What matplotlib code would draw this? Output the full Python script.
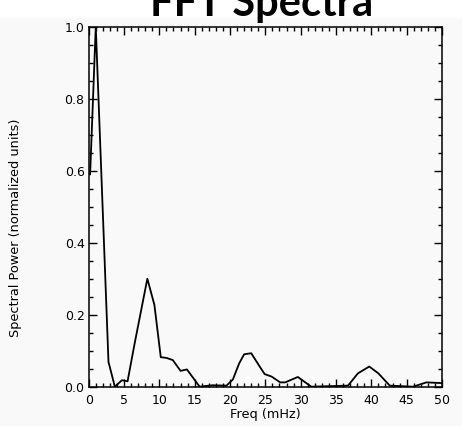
import matplotlib
matplotlib.use("Agg")
import matplotlib.pyplot as plt
from matplotlib.ticker import MultipleLocator
from matplotlib.patches import Rectangle

freq = [0.2, 1.0, 2.8, 3.7, 4.7, 5.5, 6.5, 8.3, 9.3, 10.2, 11.0, 11.9, 13.0, 13.9,
        15.7, 17.5, 19.5, 20.4, 21.3, 22.0, 23.0, 24.2, 24.9, 25.9, 27.1, 27.8,
        29.6, 31.5, 36.7, 38.1, 39.7, 41.0, 42.6, 45.9, 47.8, 50.0]
power = [0.59, 1.0, 0.069, 0.0, 0.018, 0.015, 0.12, 0.30, 0.227, 0.082, 0.08, 0.074,
         0.044, 0.048, 0.0, 0.004, 0.003, 0.02, 0.065, 0.09, 0.093, 0.056, 0.035,
         0.028, 0.012, 0.012, 0.027, 0.0, 0.003, 0.037, 0.056, 0.037, 0.003, 0.0,
         0.012, 0.01]
x_ticks = [0, 5, 10, 15, 20, 25, 30, 35, 40, 45, 50]
y_ticks = [0.0, 0.2, 0.4, 0.6, 0.8, 1.0]

W, H = 462, 426
fig = plt.figure(figsize=(W / 100, H / 100), dpi=100, facecolor="#f9f9f9")
fig.patches.append(Rectangle((0, 1 - 18 / H), 1, 18 / H, transform=fig.transFigure,
                             facecolor="white", edgecolor="none", zorder=0))

l, r, t, b = 88.7, 442, 26.7, 386.7
ax = fig.add_axes([l / W, 1 - b / H, (r - l) / W, (b - t) / H])
ax.set_facecolor("#f9f9f9")
ax.plot(freq, power, color="black", lw=1.3)
ax.set_xlim(0, 50)
ax.set_ylim(0, 1.0)
ax.set_xticks(x_ticks)
ax.set_yticks(y_ticks)
ax.set_yticklabels([f"{v:.1f}" for v in y_ticks])
ax.xaxis.set_minor_locator(MultipleLocator(1))
ax.yaxis.set_minor_locator(MultipleLocator(0.05))
tickfont = "DejaVu Sans"
ax.tick_params(which="both", direction="in", top=True, right=True, width=1.0,
               color="black")
ax.tick_params(which="major", length=6)
ax.tick_params(which="minor", length=3)
ax.tick_params(axis="x", which="major", pad=5, labelsize=9)
ax.tick_params(axis="y", which="major", pad=3, labelsize=9)
for lab in ax.get_xticklabels() + ax.get_yticklabels():
    lab.set_fontfamily(tickfont)
for s in ax.spines.values():
    s.set_linewidth(1.1)

fig.text((l + r) / 2 / W, 1 - 418 / H, "Freq (mHz)", ha="center", va="baseline",
         fontsize=9.3, family=tickfont)
fig.text(16 / W, 1 - 228 / H, "Spectral Power (normalized units)", ha="center",
         va="center", rotation=90, fontsize=9.3, family=tickfont)
fig.text(262 / W, 1 - 16 / H, "FFT Spectra", ha="center", va="baseline",
         fontsize=30, fontweight="bold", family="Lato")

fig.savefig("out.png", dpi=100, facecolor=fig.get_facecolor())
